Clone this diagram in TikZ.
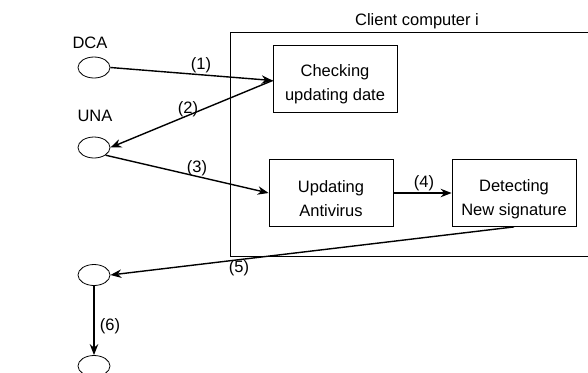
\documentclass[tikz,border=0pt]{standalone}
\usepackage{fontspec}
\setmainfont{Liberation Sans}
\usetikzlibrary{arrows.meta,shapes.geometric}
\begin{document}
\begin{tikzpicture}[x=1pt,y=-1pt,
  every node/.style={font=\fontsize{16.5}{24}\selectfont},
  oval/.style={draw,ellipse,minimum width=32pt,minimum height=21pt,inner sep=0pt,line width=0.8pt},
  stepbox/.style={draw,minimum width=124pt,minimum height=67pt,inner sep=0pt,line width=0.8pt},
  boxtext/.style={align=center,inner sep=0pt},
  arr/.style={-{Stealth[length=11pt,width=8.5pt]},line width=1.4pt},
  lbl/.style={inner sep=0pt}]
\useasboundingbox (0,0) rectangle (588,372);
\draw[line width=0.8pt] (230,32) rectangle (589,256);
\node[lbl] (client) at (417,21) {Client computer i};
\node[stepbox] (chk) at (335,78.5) {};
\node[stepbox] (upd) at (331,193) {};
\node[stepbox] (det) at (514,193) {};
\node[boxtext] (chkt) at ([yshift=-6pt]chk.center) {Checking\\updating date};
\node[boxtext] (updt) at ([yshift=-6pt]upd.center) {Updating\\Antivirus};
\node[boxtext] (dett) at ([yshift=-6pt]det.center) {Detecting\\New signature};
\node[oval] (dca) at (94,67.5) {};
\node[oval] (una) at (94,147.5) {};
\node[oval] (e3) at (94,275) {};
\node[oval] (e4) at (94,366) {};
\node[lbl] (tdca) at (90,43) {DCA};
\node[lbl] (tuna) at (95,116) {UNA};
\draw[arr] (dca.east) -- ([yshift=-2pt]chk.west);
\draw[arr] ([yshift=-2pt]chk.west) -- (una.east);
\draw[arr] (una.south east) -- (upd.west);
\draw[arr] (upd.east) -- (det.west);
\draw[arr] (det.south) -- (e3.east);
\draw[arr] (e3.south) -- (e4.north);
\node[lbl] (l1) at (201,65) {(1)};
\node[lbl] (l2) at (188,109) {(2)};
\node[lbl] (l3) at (197,168) {(3)};
\node[lbl] (l4) at (424,183) {(4)};
\node[lbl] (l5) at (239,268) {(5)};
\node[lbl] (l6) at (110,326) {(6)};
\end{tikzpicture}
\end{document}
